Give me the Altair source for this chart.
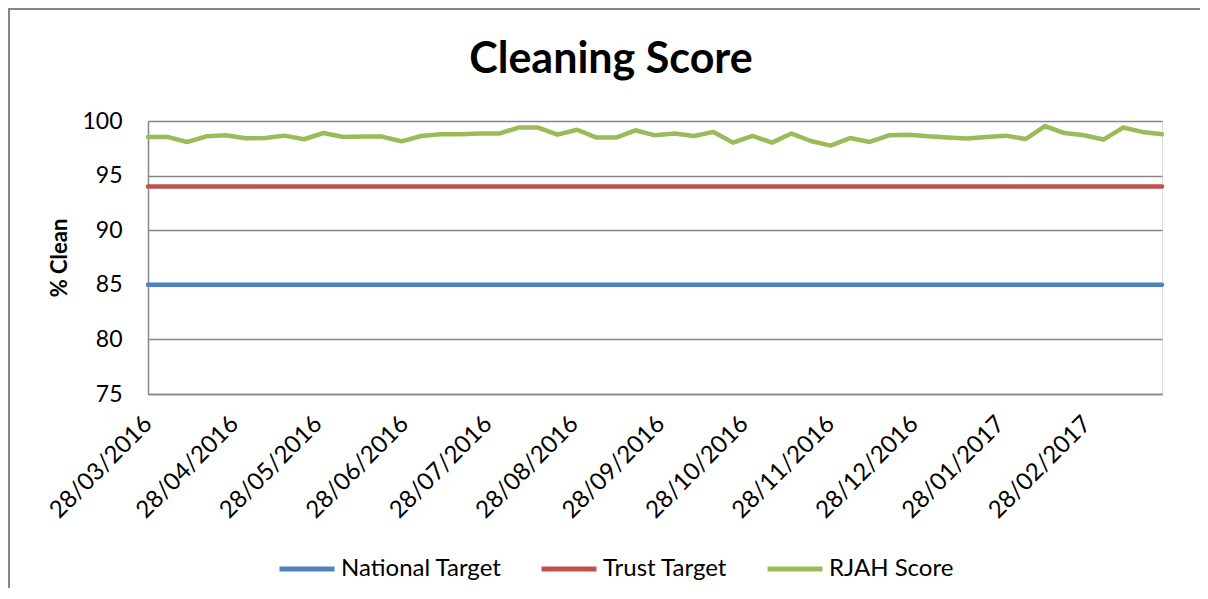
import altair as alt
import pandas as pd

# ---- data ----
start_date = "2016-03-28"          # first weekly observation
n_weeks = 53                       # weekly observations up to 27/03/2017
end_date = "2017-03-27"

rjah_score = [
    98.54, 98.54, 98.08, 98.60, 98.69, 98.42, 98.44, 98.66, 98.33, 98.90,
    98.54, 98.57, 98.57, 98.14, 98.63, 98.78, 98.78, 98.85, 98.85, 99.40,
    99.40, 98.75, 99.20, 98.48, 98.48, 99.15, 98.69, 98.85, 98.63, 99.00,
    98.02, 98.63, 98.02, 98.85, 98.17, 97.75, 98.44, 98.08, 98.69, 98.75,
    98.60, 98.50, 98.39, 98.54, 98.66, 98.35, 99.54, 98.90, 98.69, 98.30,
    99.40, 99.00, 98.78,
]
national_target = 85
trust_target = 94

series_names = ["National Target", "Trust Target", "RJAH Score"]
series_colors = ["#4F81BD", "#C0504D", "#9BBB59"]

tick_months = [(2016, 3), (2016, 4), (2016, 5), (2016, 6), (2016, 7), (2016, 8),
               (2016, 9), (2016, 10), (2016, 11), (2016, 12), (2017, 1), (2017, 2)]
y_ticks = [75, 80, 85, 90, 95, 100]

chart_title = "Cleaning Score"
y_title = "% Clean"

# ---- build table ----
dates = pd.date_range(start_date, periods=n_weeks, freq="7D").strftime("%Y-%m-%d").tolist()
rows = []
for d, s in zip(dates, rjah_score):
    rows.append({"date": d, "series": "National Target", "value": national_target})
    rows.append({"date": d, "series": "Trust Target", "value": trust_target})
    rows.append({"date": d, "series": "RJAH Score", "value": s})
df = pd.DataFrame(rows)

FONT = "Lato"
GRID = "#868686"
W, H = 1014, 273
PAD = {"left": 140, "top": 113, "right": 38, "bottom": 194}

def dt(s):
    y, m, d = (int(p) for p in s.split("-"))
    return alt.DateTime(year=y, month=m, date=d, utc=True)

lines = alt.Chart(df).mark_line(strokeWidth=4.5, strokeCap="round", strokeJoin="round").encode(
    x=alt.X(
        "date:T",
        scale=alt.Scale(type="utc", domain=[dt(start_date), dt(end_date)], nice=False),
        axis=alt.Axis(
            values=[alt.DateTime(year=y, month=m, date=28, utc=True) for y, m in tick_months],
            format="%d/%m/%Y", labelAngle=-45, labelAlign="right", labelBaseline="middle",
            labelPadding=26, ticks=False, tickSize=0, grid=False, domain=True,
            domainColor=GRID, domainWidth=1.5, title=None, labelFont=FONT,
            labelFontSize=24, labelColor="black", labelOverlap=False, labelFlush=False,
        ),
    ),
    y=alt.Y(
        "value:Q",
        scale=alt.Scale(domain=[75, 100], nice=False, zero=False),
        axis=alt.Axis(
            values=y_ticks, title=y_title, titleFont=FONT, titleFontSize=22,
            titleFontWeight="bold", titleColor="black", titlePadding=10,
            labelFont=FONT, labelFontSize=23, labelColor="black", labelPadding=26,
            ticks=False, tickSize=0, domainColor=GRID, domainWidth=1.5,
            gridColor=GRID, gridWidth=1.3,
        ),
    ),
    color=alt.Color(
        "series:N",
        scale=alt.Scale(domain=series_names, range=series_colors),
        sort=series_names,
        legend=alt.Legend(
            title=None, orient="none", direction="horizontal", legendX=129, legendY=418,
            symbolType="stroke", symbolSize=3025, symbolStrokeWidth=5,
            labelFont=FONT, labelFontSize=24, labelColor="black", labelOffset=4,
            labelLimit=400, columnPadding=29,
        ),
    ),
    detail="series:N",
)

title_mark = alt.Chart(pd.DataFrame({"t": [chart_title]})).mark_text(
    font=FONT, fontSize=43, fontWeight="bold", color="black", align="center", baseline="alphabetic"
).encode(text="t:N", x=alt.value(463), y=alt.value(-48))

# chart-area border (only its left and top edges fall inside the picture)
right_edge = W + PAD["right"] + 20
bottom_edge = H + PAD["bottom"] + 20
frame_left = alt.Chart(pd.DataFrame({"k": [0]})).mark_rule(color=GRID, strokeWidth=2).encode(
    x=alt.value(-139), y=alt.value(-113), y2=alt.value(bottom_edge)
)
frame_top = alt.Chart(pd.DataFrame({"k": [0]})).mark_rule(color=GRID, strokeWidth=2).encode(
    x=alt.value(-140), x2=alt.value(right_edge), y=alt.value(-112)
)

chart = alt.layer(frame_left, frame_top, lines, title_mark).properties(
    width=W, height=H,
    autosize=alt.AutoSizeParams(type="none"),
    padding=PAD,
).configure_view(stroke=None).configure(background="white")

chart.save("out.html", embed_options={"renderer": "svg", "actions": False})
